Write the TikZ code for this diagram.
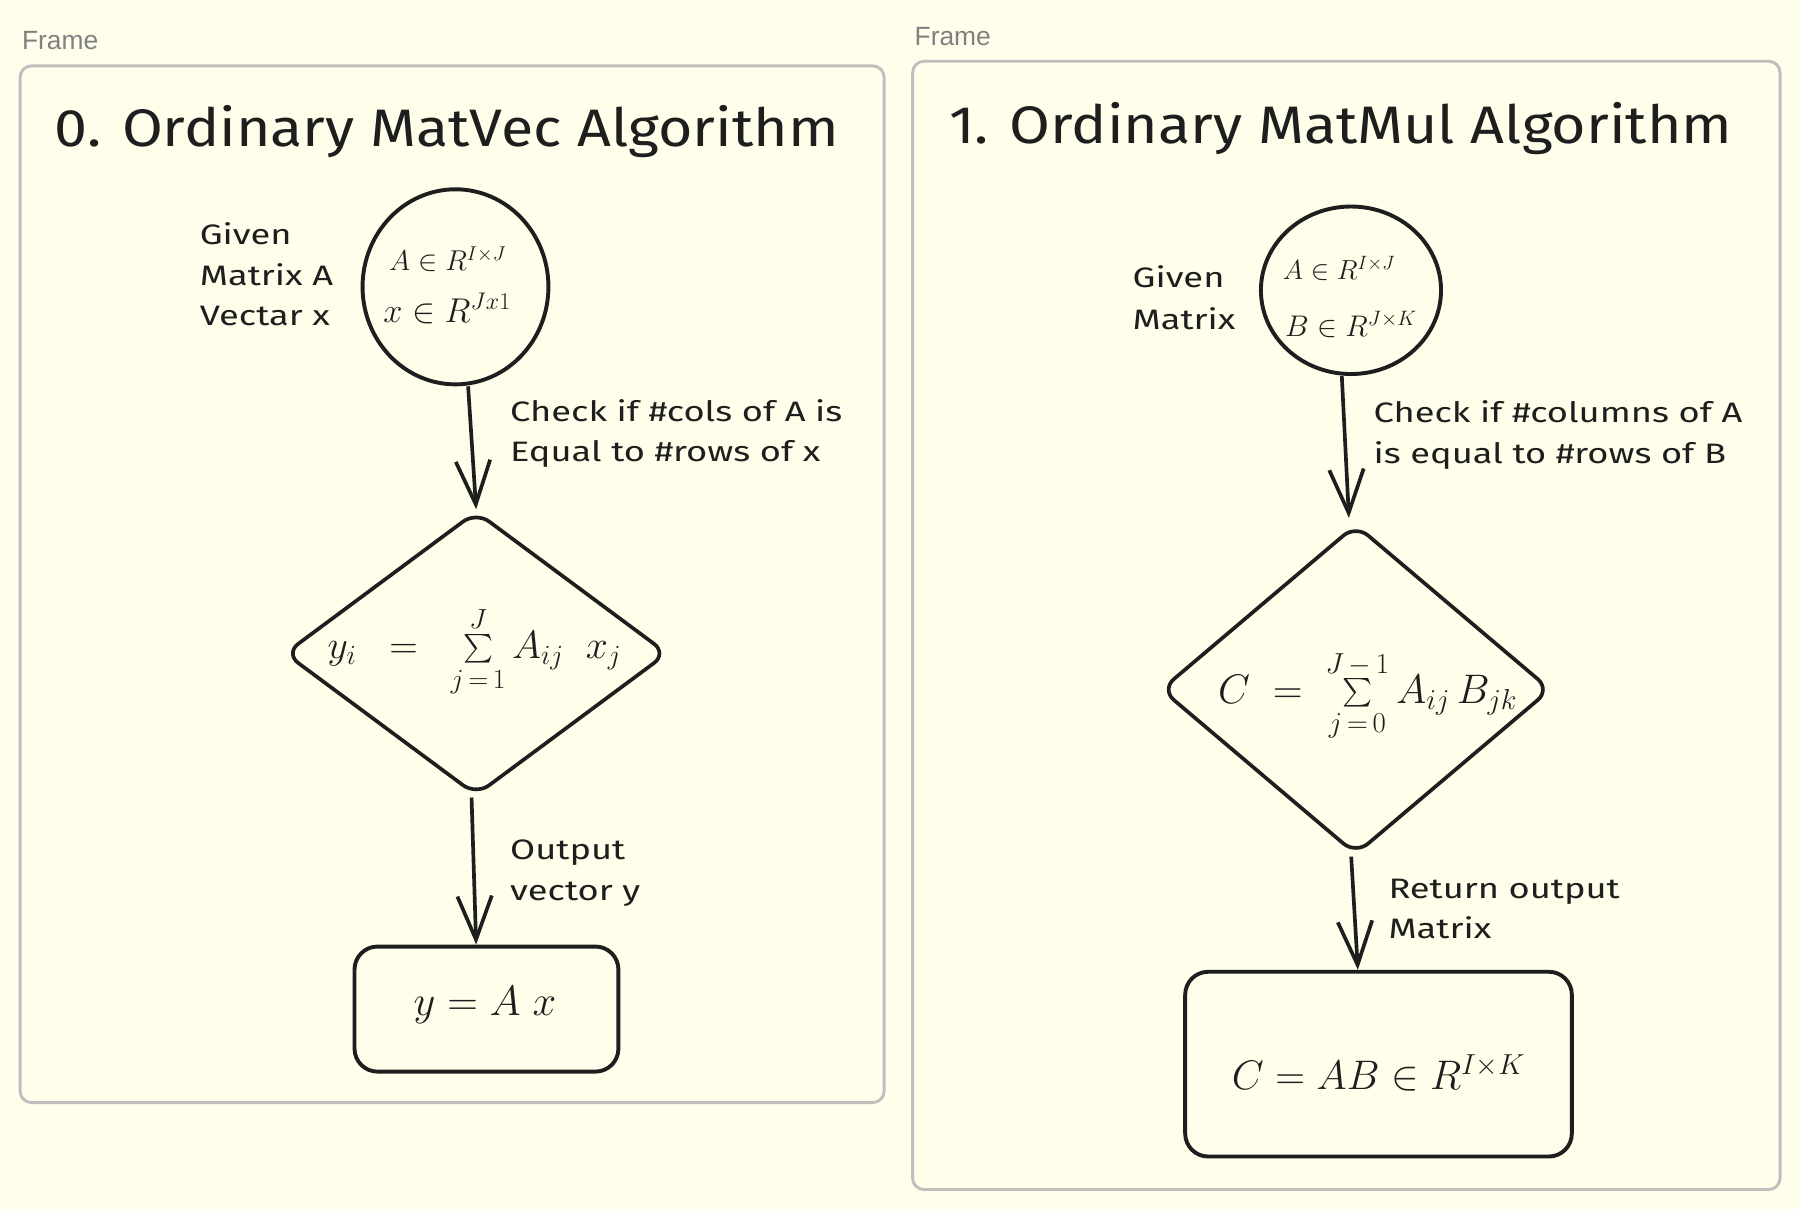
\RequirePackage{fix-cm}
\documentclass[tikz,border=0pt]{standalone}
\usepackage{exscale}
\usepackage{fontspec}
\setmainfont{Fira Sans}
\newfontfamily\titlefont[FakeStretch=1.12]{Fira Sans}
\newfontfamily\handfont[FakeStretch=1.29]{Fira Sans}
\newfontfamily\framefont{Liberation Sans}
\usetikzlibrary{shapes.geometric,arrows.meta}
\definecolor{bg}{RGB}{255,254,234}
\definecolor{ink}{RGB}{30,30,30}
\definecolor{framegray}{RGB}{190,190,190}
\definecolor{frametext}{RGB}{128,128,128}
\newcommand{\upgap}{\rule[-2pt]{0pt}{0pt}}
\newcommand{\downgap}{\rule{0pt}{18pt}}
\begin{document}
\begin{tikzpicture}[x=1pt,y=-1pt,
  frame/.style={draw=framegray, line width=2.5pt, rounded corners=10pt},
  framelabel/.style={anchor=base west, inner sep=0, text=frametext, font=\framefont\fontsize{23}{27}\selectfont},
  title/.style={anchor=base west, inner sep=0, text=ink, font=\titlefont\fontsize{46}{55}\selectfont},
  lbl/.style={anchor=base west, inner sep=0, text=ink, font=\handfont\fontsize{24.5}{29}\selectfont},
  circ/.style={ellipse, draw=ink, line width=3.4pt, inner sep=0},
  dia/.style={diamond, draw=ink, line width=3.2pt, rounded corners=14pt, inner sep=0},
  box/.style={rectangle, draw=ink, line width=3.4pt, rounded corners=20pt, inner sep=0},
  mth/.style={inner sep=0, text=ink},
  arr/.style={draw=ink, line width=3.2pt, -{Straight Barb[length=38pt,width=30pt]}},
]
\fill[bg] (0,0) rectangle (1568,1053.7);
\useasboundingbox (0,0) rectangle (1568,1053.7);

% frames
\draw[frame] (17.5,57.4) rectangle (770.6,961);
\draw[frame] (795.4,53.4) rectangle (1551.5,1036.8);
\node[framelabel] (fl1) at (19,43.3) {Frame};
\node[framelabel] (fl2) at (797,39.4) {Frame};

% titles
\node[title] (t0) at (47.5,128) {0. Ordinary MatVec Algorithm};
\node[title] (t1) at (827,125) {1. Ordinary MatMul Algorithm};

% ---------- left ----------
\node[circ, minimum width=162pt, minimum height=170pt] (c1) at (397,250) {};
\node[dia, minimum width=334pt, minimum height=248pt] (d1) at (415,569.5) {};
\node[box, minimum width=230pt, minimum height=109pt] (b1) at (424,879.5) {};

\node[mth, anchor=base west, font=\fontsize{25}{30}\selectfont] (c1a) at (339,236) {$A \in R^{I\times J}$};
\node[mth, anchor=base west, font=\fontsize{30}{36}\selectfont] (c1b) at (334,281) {$x \in R^{Jx1}$};
\node[mth, anchor=base, font=\fontsize{34.5}{41}\selectfont] (f1) at (413.5,573.8) {$y_i \;\;=\;\; \sum\limits_{\downgap j\,=\,1}^{\upgap J} A_{ij}\;\; x_j$};
\node[mth, anchor=base, font=\fontsize{37}{44}\selectfont] (e1) at (422.7,884.7) {$y = A\;x$};

\node[lbl] (g1) at (174,213.5) {Given};
\node[lbl] (g2) at (174,248.5) {Matrix A};
\node[lbl] (g3) at (174,283.5) {Vectar x};
\node[lbl] (k1) at (444.5,367) {Check if \#cols of A is};
\node[lbl] (k2) at (444.5,402) {Equal to \#rows of x};
\node[lbl] (o1) at (444.5,749) {Output};
\node[lbl] (o2) at (444.5,784.5) {vector y};

\draw[arr] ([xshift=11pt]c1.south) -- (d1.north);
\draw[arr] ([xshift=-4pt]d1.south) -- ([xshift=-9pt]b1.north);

% ---------- right ----------
\node[circ, minimum width=157pt, minimum height=146pt] (c2) at (1177.5,253) {};
\node[dia, minimum width=340pt, minimum height=288pt] (d2) at (1181.7,601) {};
\node[box, minimum width=337pt, minimum height=161pt] (b2) at (1201.5,927.5) {};

\node[mth, anchor=base west, font=\fontsize{24}{29}\selectfont] (c2a) at (1118,244) {$A \in R^{I\times J}$};
\node[mth, anchor=base west, font=\fontsize{26}{31}\selectfont] (c2b) at (1120,293) {$B \in R^{J\times K}$};
\node[mth, anchor=base, font=\fontsize{36}{43}\selectfont] (f2) at (1192,613) {$C \;=\; \sum\limits_{\downgap j\,=\,0}^{\upgap J\,-\,1} A_{ij}\,B_{jk}$};
\node[mth, anchor=base, font=\fontsize{36}{43}\selectfont] (e2) at (1201.5,950) {$C = AB \in R^{I\times K}$};

\node[lbl] (h1) at (987,251) {Given};
\node[lbl] (h2) at (987,287) {Matrix};
\node[lbl] (m1) at (1197,368.5) {Check if \#columns of A};
\node[lbl] (m2) at (1197,403.6) {is equal to \#rows of B};
\node[lbl] (r1) at (1210,783) {Return output};
\node[lbl] (r2) at (1210,817.6) {Matrix};

\draw[arr] ([xshift=-8pt]c2.south) -- ([xshift=-6pt,yshift=4pt]d2.north);
\draw[arr] ([xshift=-4pt]d2.south) -- ([xshift=-18pt]b2.north);
\end{tikzpicture}
\end{document}
